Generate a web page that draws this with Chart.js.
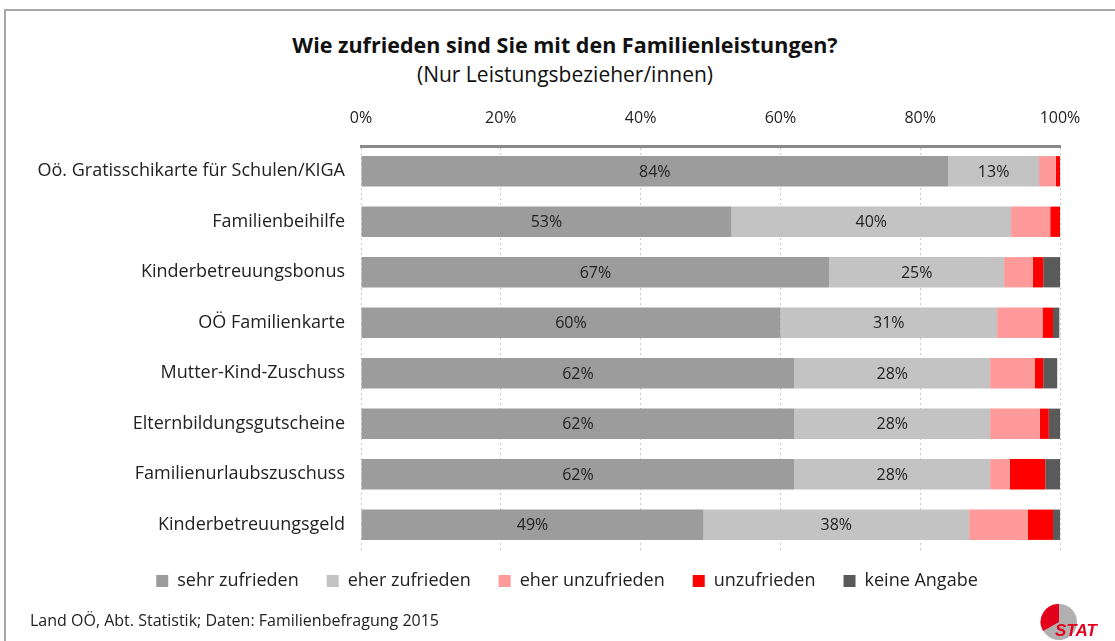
<!DOCTYPE html>
<html>
<head>
<meta charset="utf-8">
<script src="https://cdn.jsdelivr.net/npm/chart.js@4/dist/chart.umd.min.js"></script>
<style>
  body { margin: 0; background: #fff; font-family: "Open Sans", sans-serif; }
  #wrap { position: relative; width: 1115px; height: 641px; overflow: hidden; }
  #frame { position: absolute; left: 4px; top: 9px; width: 1200px; height: 700px; border-top: 2px solid #a8a8a8; border-left: 2px solid #a8a8a8; }
  #title { position: absolute; top: 30px; left: 0; width: 1130px; text-align: center; font-size: 21.5px; font-weight: bold; color: #111; }
  #subtitle { position: absolute; top: 60px; left: 0; width: 1130px; text-align: center; font-size: 21px; color: #111; }
  #source { position: absolute; left: 30px; top: 609px; font-size: 16px; color: #222; }
  #logo { position: absolute; left: 1025px; top: 600px; width: 80px; height: 40px; }
  canvas { position: absolute; left: 0; top: 0; }
</style>
</head>
<body>
<div id="wrap">
  <div id="frame"></div>
  <div id="title">Wie zufrieden sind Sie mit den Familienleistungen?</div>
  <div id="subtitle">(Nur Leistungsbezieher/innen)</div>
  <canvas id="myChart" width="1115" height="641"></canvas>
  <div id="source">Land OÖ, Abt. Statistik; Daten: Familienbefragung 2015</div>
  <svg id="logo" viewBox="0 0 80 40">
    <circle cx="34" cy="22" r="18" fill="#b0b0b0"/>
    <path d="M34 22 L34 4 A18 18 0 0 0 18 31 Z" fill="#e3001b"/>
    <text x="30" y="36" font-family="Liberation Sans" font-weight="bold" font-style="italic" font-size="17" fill="#e3001b">STAT</text>
  </svg>
</div>
<script>
// Kategorien und Werte (in %)
const categories = [
  'Oö. Gratisschikarte für Schulen/KIGA',
  'Familienbeihilfe',
  'Kinderbetreuungsbonus',
  'OÖ Familienkarte',
  'Mutter-Kind-Zuschuss',
  'Elternbildungsgutscheine',
  'Familienurlaubszuschuss',
  'Kinderbetreuungsgeld'
];
const sehrZufrieden   = [84, 53, 67, 60, 62, 62, 62, 49];
const eherZufrieden   = [13, 40, 25, 31, 28, 28, 28, 38];
const eherUnzufrieden = [2.4, 5.6, 4.1, 6.5, 6.4, 7.1, 2.8, 8.4];
const unzufrieden     = [0.6, 1.4, 1.5, 1.5, 1.2, 1.3, 5.1, 3.6];
const keineAngabe     = [0, 0.5, 2.4, 0.9, 2.0, 1.7, 2.5, 1.3];
const xTicks = [0, 20, 40, 60, 80, 100];

const FONT = '"Open Sans", sans-serif';

// Beschriftung nur fuer die zwei grossen Segmente
const segmentLabels = {
  id: 'segmentLabels',
  afterDatasetsDraw(chart) {
    const ctx = chart.ctx;
    ctx.save();
    ctx.font = '16px ' + FONT;
    ctx.fillStyle = '#222';
    ctx.textAlign = 'center';
    ctx.textBaseline = 'middle';
    [0, 1].forEach(di => {
      const meta = chart.getDatasetMeta(di);
      meta.data.forEach((bar, i) => {
        const v = chart.data.datasets[di].data[i];
        const cx = (bar.x + bar.base) / 2;
        ctx.fillText(Math.round(v) + '%', cx, bar.y + 1);
      });
    });
    ctx.restore();
  }
};

// Legende etwas verschieben (wie im Original)
const legendShift = {
  id: 'legendShift',
  afterLayout(chart) {
    if (chart.legend) {
      chart.legend.left += 37;
      chart.legend.right += 37;
      chart.legend.top -= 6;
      chart.legend.bottom -= 6;
    }
  }
};

const ctx = document.getElementById('myChart');
const myChart = new Chart(ctx, {
  type: 'bar',
  data: {
    labels: categories,
    datasets: [
      { label: 'sehr zufrieden', data: sehrZufrieden, backgroundColor: '#9c9c9c' },
      { label: 'eher zufrieden', data: eherZufrieden, backgroundColor: '#c3c3c3' },
      { label: 'eher unzufrieden', data: eherUnzufrieden, backgroundColor: '#ff9a9a' },
      { label: 'unzufrieden', data: unzufrieden, backgroundColor: '#ff0000' },
      { label: 'keine Angabe', data: keineAngabe, backgroundColor: '#5a5a5a' }
    ]
  },
  plugins: [segmentLabels, legendShift],
  options: {
    responsive: false,
    animation: false,
    indexAxis: 'y',
    barPercentage: 0.6,
    categoryPercentage: 1,
    layout: { padding: { top: 100, right: 55, bottom: 35, left: 0 } },
    scales: {
      x: {
        position: 'top',
        stacked: true,
        min: 0,
        max: 100,
        afterBuildTicks: scale => { scale.ticks = xTicks.map(v => ({ value: v })); },
        afterFit: scale => { scale.height = 46; },
        border: { display: true, color: '#8a8a8a', width: 3, dash: [2, 3] },
        grid: { color: '#c8c8c8', drawTicks: false },
        ticks: {
          padding: 18,
          color: '#222',
          font: { size: 16, family: FONT },
          callback: v => v + '%'
        }
      },
      y: {
        stacked: true,
        afterFit: scale => { scale.width = 361; },
        grid: { display: false },
        border: { display: false },
        ticks: {
          padding: 8,
          color: '#222',
          font: { size: 18, family: FONT }
        }
      }
    },
    plugins: {
      legend: {
        position: 'bottom',
        labels: {
          boxWidth: 12,
          boxHeight: 12,
          padding: 28,
          color: '#222',
          font: { size: 18, family: FONT }
        }
      },
      tooltip: { enabled: false }
    }
  }
});
</script>
</body>
</html>
